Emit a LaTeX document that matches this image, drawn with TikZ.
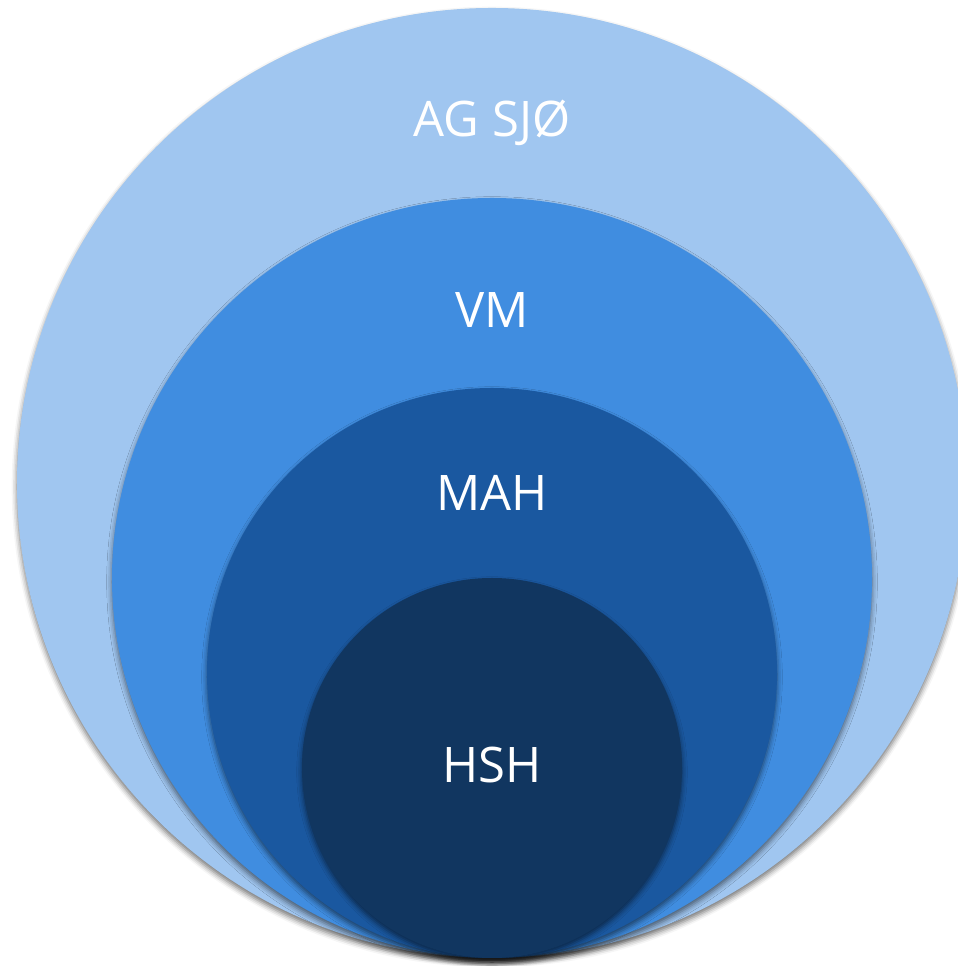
\documentclass[tikz,border=0pt]{standalone}
\usepackage{fontspec}
\setmainfont{Open Sans}
\usetikzlibrary{calc,shadows.blur}
\definecolor{agsjo}{RGB}{160,198,240}
\definecolor{vm}{RGB}{64,141,224}
\definecolor{mah}{RGB}{26,88,160}
\definecolor{hsh}{RGB}{17,54,96}
\begin{document}
\begin{tikzpicture}[x=0.75pt,y=0.75pt]
      \useasboundingbox (0,0) rectangle (957,966);

      % common bottom point of all circles
      \coordinate (T) at (492,8);
      \tikzstyle{ring}=[blur shadow={shadow xshift=0pt, shadow yshift=-3pt, shadow blur radius=4pt, shadow opacity=55}];
      \tikzstyle{ringlabel}=[text=white, font=\fontsize{36.75}{40}\selectfont, inner sep=0pt];

      \fill[ring, agsjo] ($(T)+(0,475)$) circle (475);
      \fill[ring, vm]    ($(T)+(0,380)$) circle (380);
      \fill[ring, mah]   ($(T)+(0,285)$) circle (285);
      \fill[ring, hsh]   ($(T)+(0,190)$) circle (190);

      \node[ringlabel] (agsjoL) at (492,843) {AG SJØ};
      \node[ringlabel] (vmL)    at (492,656) {VM};
      \node[ringlabel] (mahL)   at (492,473) {MAH};
      \node[ringlabel] (hshL)   at (492,201) {HSH};
    \end{tikzpicture}
\end{document}
